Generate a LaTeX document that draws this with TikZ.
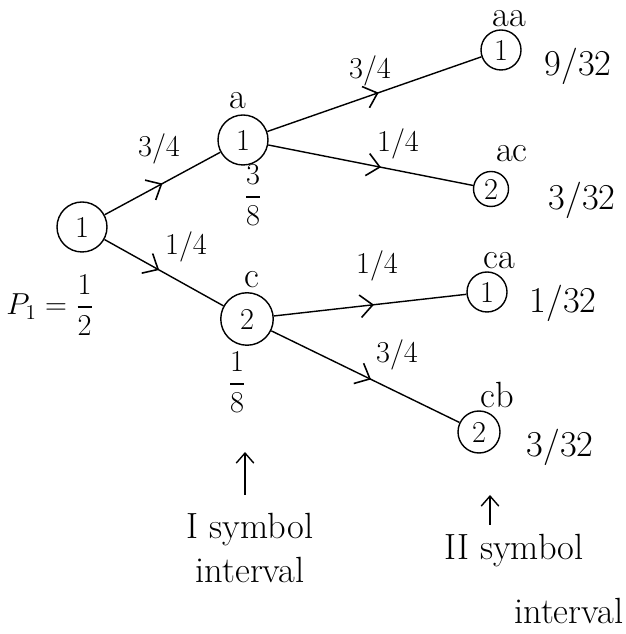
\documentclass[tikz,border=0pt]{standalone}
\usepackage{amsmath}
\usepackage{tikz}
\usetikzlibrary{arrows.meta,decorations.markings}

\begin{document}
\begin{tikzpicture}[
    symb/.style={draw, thick, circle, inner sep=0pt, minimum size=0.8cm, font=\LARGE},
    midarrow/.style={thick, decoration={markings, mark=at position #1 with {\arrow{Straight Barb[length=2.5mm,width=4.5mm,line width=0.9pt]}}}, postaction={decorate}},
    midarrow/.default=0.52,
    lbl/.style={font=\LARGE},
    big/.style={font=\huge}]
                    \useasboundingbox (0,0) rectangle (12.5,12.68);

                    \node[symb, minimum size=1cm] (root) at (1.64,8.14) {1};
                    \node[symb, minimum size=1cm] (a) at (4.86,9.88) {1};
                    \node[symb, minimum size=1.05cm] (c) at (4.94,6.3) {2};
                    \node[symb] (aa) at (10.02,11.68) {1};
                    \node[symb, minimum size=0.7cm] (ac) at (9.82,8.9) {2};
                    \node[symb] (ca) at (9.74,6.84) {1};
                    \node[symb, minimum size=0.84cm] (cb) at (9.58,4.04) {2};

                    \draw[midarrow=0.5] (root) -- (a);
                    \draw[midarrow=0.46] (root) -- (c);
                    \draw[midarrow] (a) -- (aa);
                    \draw[midarrow=0.55] (a) -- (ac);
                    \draw[midarrow] (c) -- (ca);
                    \draw[midarrow=0.53] (c) -- (cb);

                    \node[lbl] (pa) at (3.18,9.7) {3/4};
                    \node[lbl] (pc) at (3.72,7.74) {1/4};
                    \node[lbl] (paa) at (7.4,11.26) {3/4};
                    \node[lbl] (pac) at (7.96,9.8) {1/4};
                    \node[lbl] (pca) at (7.54,7.36) {1/4};
                    \node[lbl] (pcb) at (7.94,5.58) {3/4};

                    \node[big] (na) at (4.76,10.66) {a};
                    \node[big] (nc) at (5.04,7.08) {c};
                    \node[big] (naa) at (10.18,12.3) {aa};
                    \node[big] (nac) at (10.24,9.6) {ac};
                    \node[big] (nca) at (9.98,7.46) {ca};
                    \node[big] (ncb) at (9.94,4.78) {cb};

                    \node[lbl] (p1) at (1.0,6.58) {$P_1=\dfrac{1}{2}$};
                    \node[lbl] (qa) at (5.06,8.78) {$\dfrac{3}{8}$};
                    \node[lbl] (qc) at (4.74,5.04) {$\dfrac{1}{8}$};
                    \node[big] (qaa) at (11.56,11.36) {9/32};
                    \node[big] (qac) at (11.64,8.68) {3/32};
                    \node[big] (qca) at (11.26,6.62) {1/32};
                    \node[big] (qcb) at (11.2,3.74) {3/32};

                    \node[big, align=center] (first) at (5.0,1.72) {I symbol\\interval};
                    \node[big, align=left, anchor=north west] (second) at (8.76,2.12) {II symbol\\[0.4cm]\hspace*{1.4cm}interval};
                    \coordinate (up1) at (4.9,3.64);
                    \coordinate (up2) at (9.8,2.78);
                    \draw[thick, -{Straight Barb[length=2mm,width=3.5mm]}] (4.9,2.78) -- (up1);
                    \draw[thick, -{Straight Barb[length=2mm,width=3.5mm]}] (9.8,2.18) -- (up2);
                \end{tikzpicture}
\end{document}
